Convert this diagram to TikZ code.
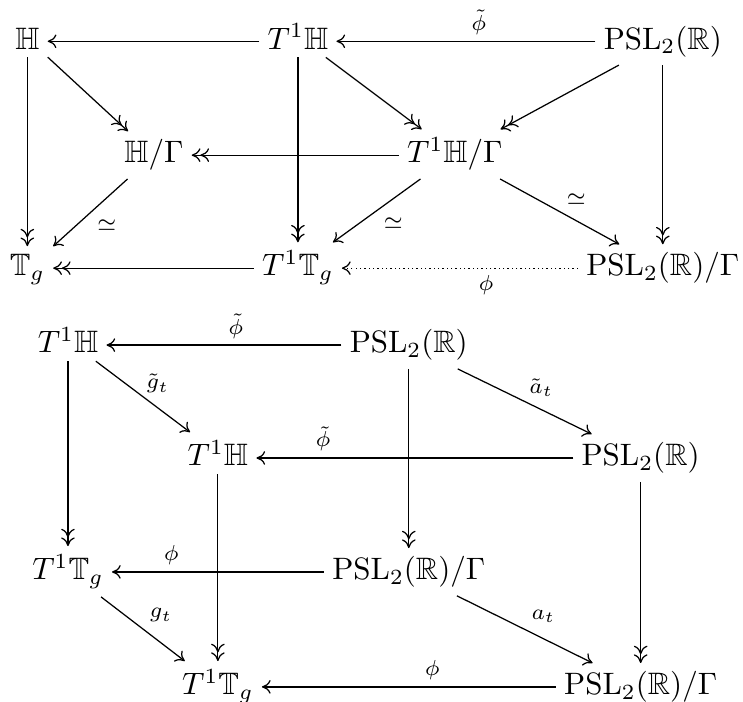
\documentclass[tikz,border=0pt]{standalone}
\usepackage{amssymb}
\usetikzlibrary{arrows.meta}
\usetikzlibrary{positioning}

\begin{document}
\begin{tikzpicture}[>={Computer Modern Rightarrow[length=2.8pt,width=4.4pt]},thin,
  obj/.style={anchor=base,inner sep=2.5pt},
  lbl/.style={font=\scriptsize,inner sep=2pt},
  ax/.style={yshift=2.5pt}]
  \useasboundingbox (0,0) rectangle (8.43,-7.96);

  % upper diagram
  \node[obj] (h) at (0.31,-0.556) {$\mathbb{H}$};
  \node[obj] (th) at (3.38,-0.556) {$T^1\mathbb{H}$};
  \node[obj] (psl) at (7.52,-0.556) {$\mathrm{PSL}_2(\mathbb{R})$};
  \node[obj] (hg) at (1.746,-1.848) {$\mathbb{H}/\Gamma$};
  \node[obj] (thg) at (5.16,-1.848) {$T^1\mathbb{H}/\Gamma$};
  \node[obj] (tg) at (0.31,-3.13) {$\mathbb{T}_g$};
  \node[obj] (ttg) at (3.38,-3.13) {$T^1\mathbb{T}_g$};
  \node[obj] (pslg) at (7.52,-3.13) {$\mathrm{PSL}_2(\mathbb{R})/\Gamma$};

  \path ([ax]th.base west) edge[->] ([ax]h.base east);
  \path ([ax]psl.base west) edge[->] node[lbl,above,pos=.45] {$\tilde\phi$} ([ax]th.base east);
  \path (h) edge[->>] (hg);
  \path (h) edge[->>] (tg);
  \path (th) edge[->>] (thg);
  \path (th) edge[->>] (ttg);
  \path (psl) edge[->>] (thg);
  \path (psl) edge[->>] (pslg);
  \path ([ax]thg.base west) edge[->>] ([ax]hg.base east);
  \path (hg) edge[->] node[lbl,below right] {$\simeq$} (tg);
  \path (thg) edge[->] node[lbl,below right] {$\simeq$} (ttg);
  \path (thg) edge[->] node[lbl,above right] {$\simeq$} (pslg);
  \path ([ax]ttg.base west) edge[->>] ([ax]tg.base east);
  \path ([ax]pslg.base west) edge[->,densely dotted] node[lbl,below,pos=.39] {$\phi$} ([ax]ttg.base east);

  % lower diagram
  \node[obj] (bth) at (0.771,-4.003) {$T^1\mathbb{H}$};
  \node[obj] (bpsl) at (4.638,-4.003) {$\mathrm{PSL}_2(\mathbb{R})$};
  \node[obj] (fth) at (2.472,-5.284) {$T^1\mathbb{H}$};
  \node[obj] (fpsl) at (7.269,-5.284) {$\mathrm{PSL}_2(\mathbb{R})$};
  \node[obj] (bttg) at (0.771,-6.577) {$T^1\mathbb{T}_g$};
  \node[obj] (bpslg) at (4.638,-6.577) {$\mathrm{PSL}_2(\mathbb{R})/\Gamma$};
  \node[obj] (fttg) at (2.472,-7.881) {$T^1\mathbb{T}_g$};
  \node[obj] (fpslg) at (7.269,-7.881) {$\mathrm{PSL}_2(\mathbb{R})/\Gamma$};

  \path ([ax]bpsl.base west) edge[->] node[lbl,above,pos=.45] {$\tilde\phi$} ([ax]bth.base east);
  \path (bth) edge[->] node[lbl,above right=-1.5pt] {$\tilde g_t$} (fth);
  \path (bpsl) edge[->] node[lbl,above right=-1pt] {$\tilde a_t$} (fpsl);
  \path ([ax]fpsl.base west) edge[->] node[lbl,above,pos=.79] {$\tilde\phi$} ([ax]fth.base east);
  \path (bth) edge[->>] (bttg);
  \path (bpsl) edge[->>] (bpslg);
  \path (fth) edge[->>] (fttg);
  \path (fpsl) edge[->>] (fpslg);
  \path ([ax]bpslg.base west) edge[->] node[lbl,above,pos=.72] {$\phi$} ([ax]bttg.base east);
  \path (bttg) edge[->] node[lbl,above right] {$g_t$} (fttg);
  \path (bpslg) edge[->] node[lbl,above right] {$a_t$} (fpslg);
  \path ([ax]fpslg.base west) edge[->] node[lbl,above,pos=.42] {$\phi$} ([ax]fttg.base east);
\end{tikzpicture}
\end{document}
